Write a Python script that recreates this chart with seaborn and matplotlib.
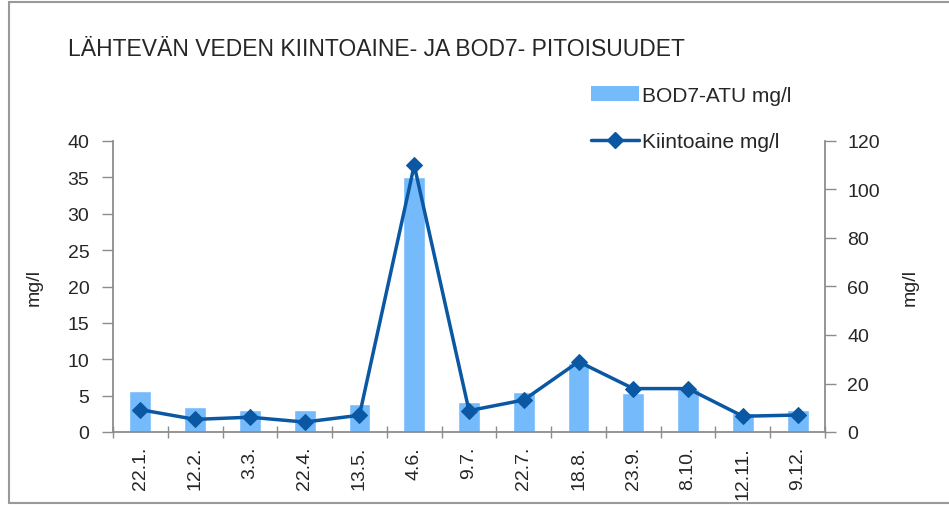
import numpy as np
import matplotlib
matplotlib.use("Agg")
import matplotlib.pyplot as plt
import seaborn as sns
from matplotlib.lines import Line2D
from matplotlib.patches import Patch

# data
dates = ["22.1.", "12.2.", "3.3.", "22.4.", "13.5.", "4.6.", "9.7.",
         "22.7.", "18.8.", "23.9.", "8.10.", "12.11.", "9.12."]
bod7 = [5.6, 3.5, 3.0, 3.0, 3.8, 35.0, 4.1, 5.5, 9.5, 5.3, 5.9, 2.6, 3.0]
solids = [9.2, 5.2, 6.1, 4.1, 6.9, 110, 8.8, 13.2, 29, 17.9, 17.9, 6.5, 7.0]

bar_color = "#75BBFC"
line_color = "#0A58A3"
axis_gray = "#8C8C8C"

sns.set_theme(style="white")
plt.rcParams['font.family'] = ['Liberation Sans', 'DejaVu Sans']

fig = plt.figure(figsize=(9.49, 5.06), dpi=100)
ax = fig.add_axes([113/949, 1 - 433/506, 712/949, 291/506])
x = np.arange(len(dates))

sns.barplot(x=x, y=bod7, color=bar_color, width=0.4, saturation=1, ax=ax)
ax.set_ylim(0, 40)
ax.set_yticks(range(0, 41, 5))
ax.set_xlim(-0.5, len(dates) - 0.5)
ax.set_xticks(x)
ax.set_xticklabels(dates, rotation=90, fontsize=14)
ax.set_xticks(np.arange(-0.5, len(dates), 1), minor=True)
ax.tick_params(axis="x", which="major", length=0, pad=10)
ax.tick_params(axis="x", which="minor", length=9, width=1, color=axis_gray, direction="inout", bottom=True)
ax.tick_params(axis="y", length=8, width=1, color=axis_gray, direction="out", left=True, labelsize=14, pad=9)
ax.set_ylabel("mg/l", fontsize=14, labelpad=18)
ax.set_xlabel("")

ax2 = ax.twinx()
sns.lineplot(x=x, y=solids, color=line_color, linewidth=2.5, marker="D",
             markersize=8.5, markeredgecolor=line_color, ax=ax2)
ax2.set_ylim(0, 120)
ax2.set_yticks(range(0, 121, 20))
ax2.tick_params(axis="y", length=8, width=1, color=axis_gray, direction="out", right=True, labelsize=14, pad=8)
ax2.set_ylabel("mg/l", fontsize=14, labelpad=16)

for a in (ax, ax2):
    for side, sp in a.spines.items():
        sp.set_color(axis_gray)
        sp.set_linewidth(1.3)
ax.spines["top"].set_visible(False)
ax2.spines["top"].set_visible(False)
ax.spines["right"].set_visible(False)
ax2.spines["left"].set_visible(False)
ax2.spines["bottom"].set_visible(False)

fig.text(68/949, 1 - 50/506, "LÄHTEVÄN VEDEN KIINTOAINE- JA BOD7- PITOISUUDET",
         fontsize=16.5, va="center", ha="left",
         family=['Liberation Sans Narrow', 'Liberation Sans', 'DejaVu Sans'])

handles = [Patch(facecolor=bar_color, edgecolor="none"),
           Line2D([0], [0], color=line_color, linewidth=2.5, marker="D", markersize=8.5)]
fig.legend(handles, ["BOD7-ATU mg/l", "Kiintoaine mg/l"],
           loc="upper left", bbox_to_anchor=(572/949, 1 - 68/506),
           frameon=False, fontsize=15, labelspacing=1.3,
           handlelength=2.3, handletextpad=0.15)

# outer frame lines of the original chart object
fig.add_artist(Line2D([9/949, 1], [1 - 3/506, 1 - 3/506], color="#999999", linewidth=1.5))
fig.add_artist(Line2D([9/949, 9/949], [1 - 3/506, 1 - 504/506], color="#999999", linewidth=1.5))
fig.add_artist(Line2D([9/949, 1], [1 - 504/506, 1 - 504/506], color="#999999", linewidth=1.5))

fig.savefig("out.png", dpi=100)
